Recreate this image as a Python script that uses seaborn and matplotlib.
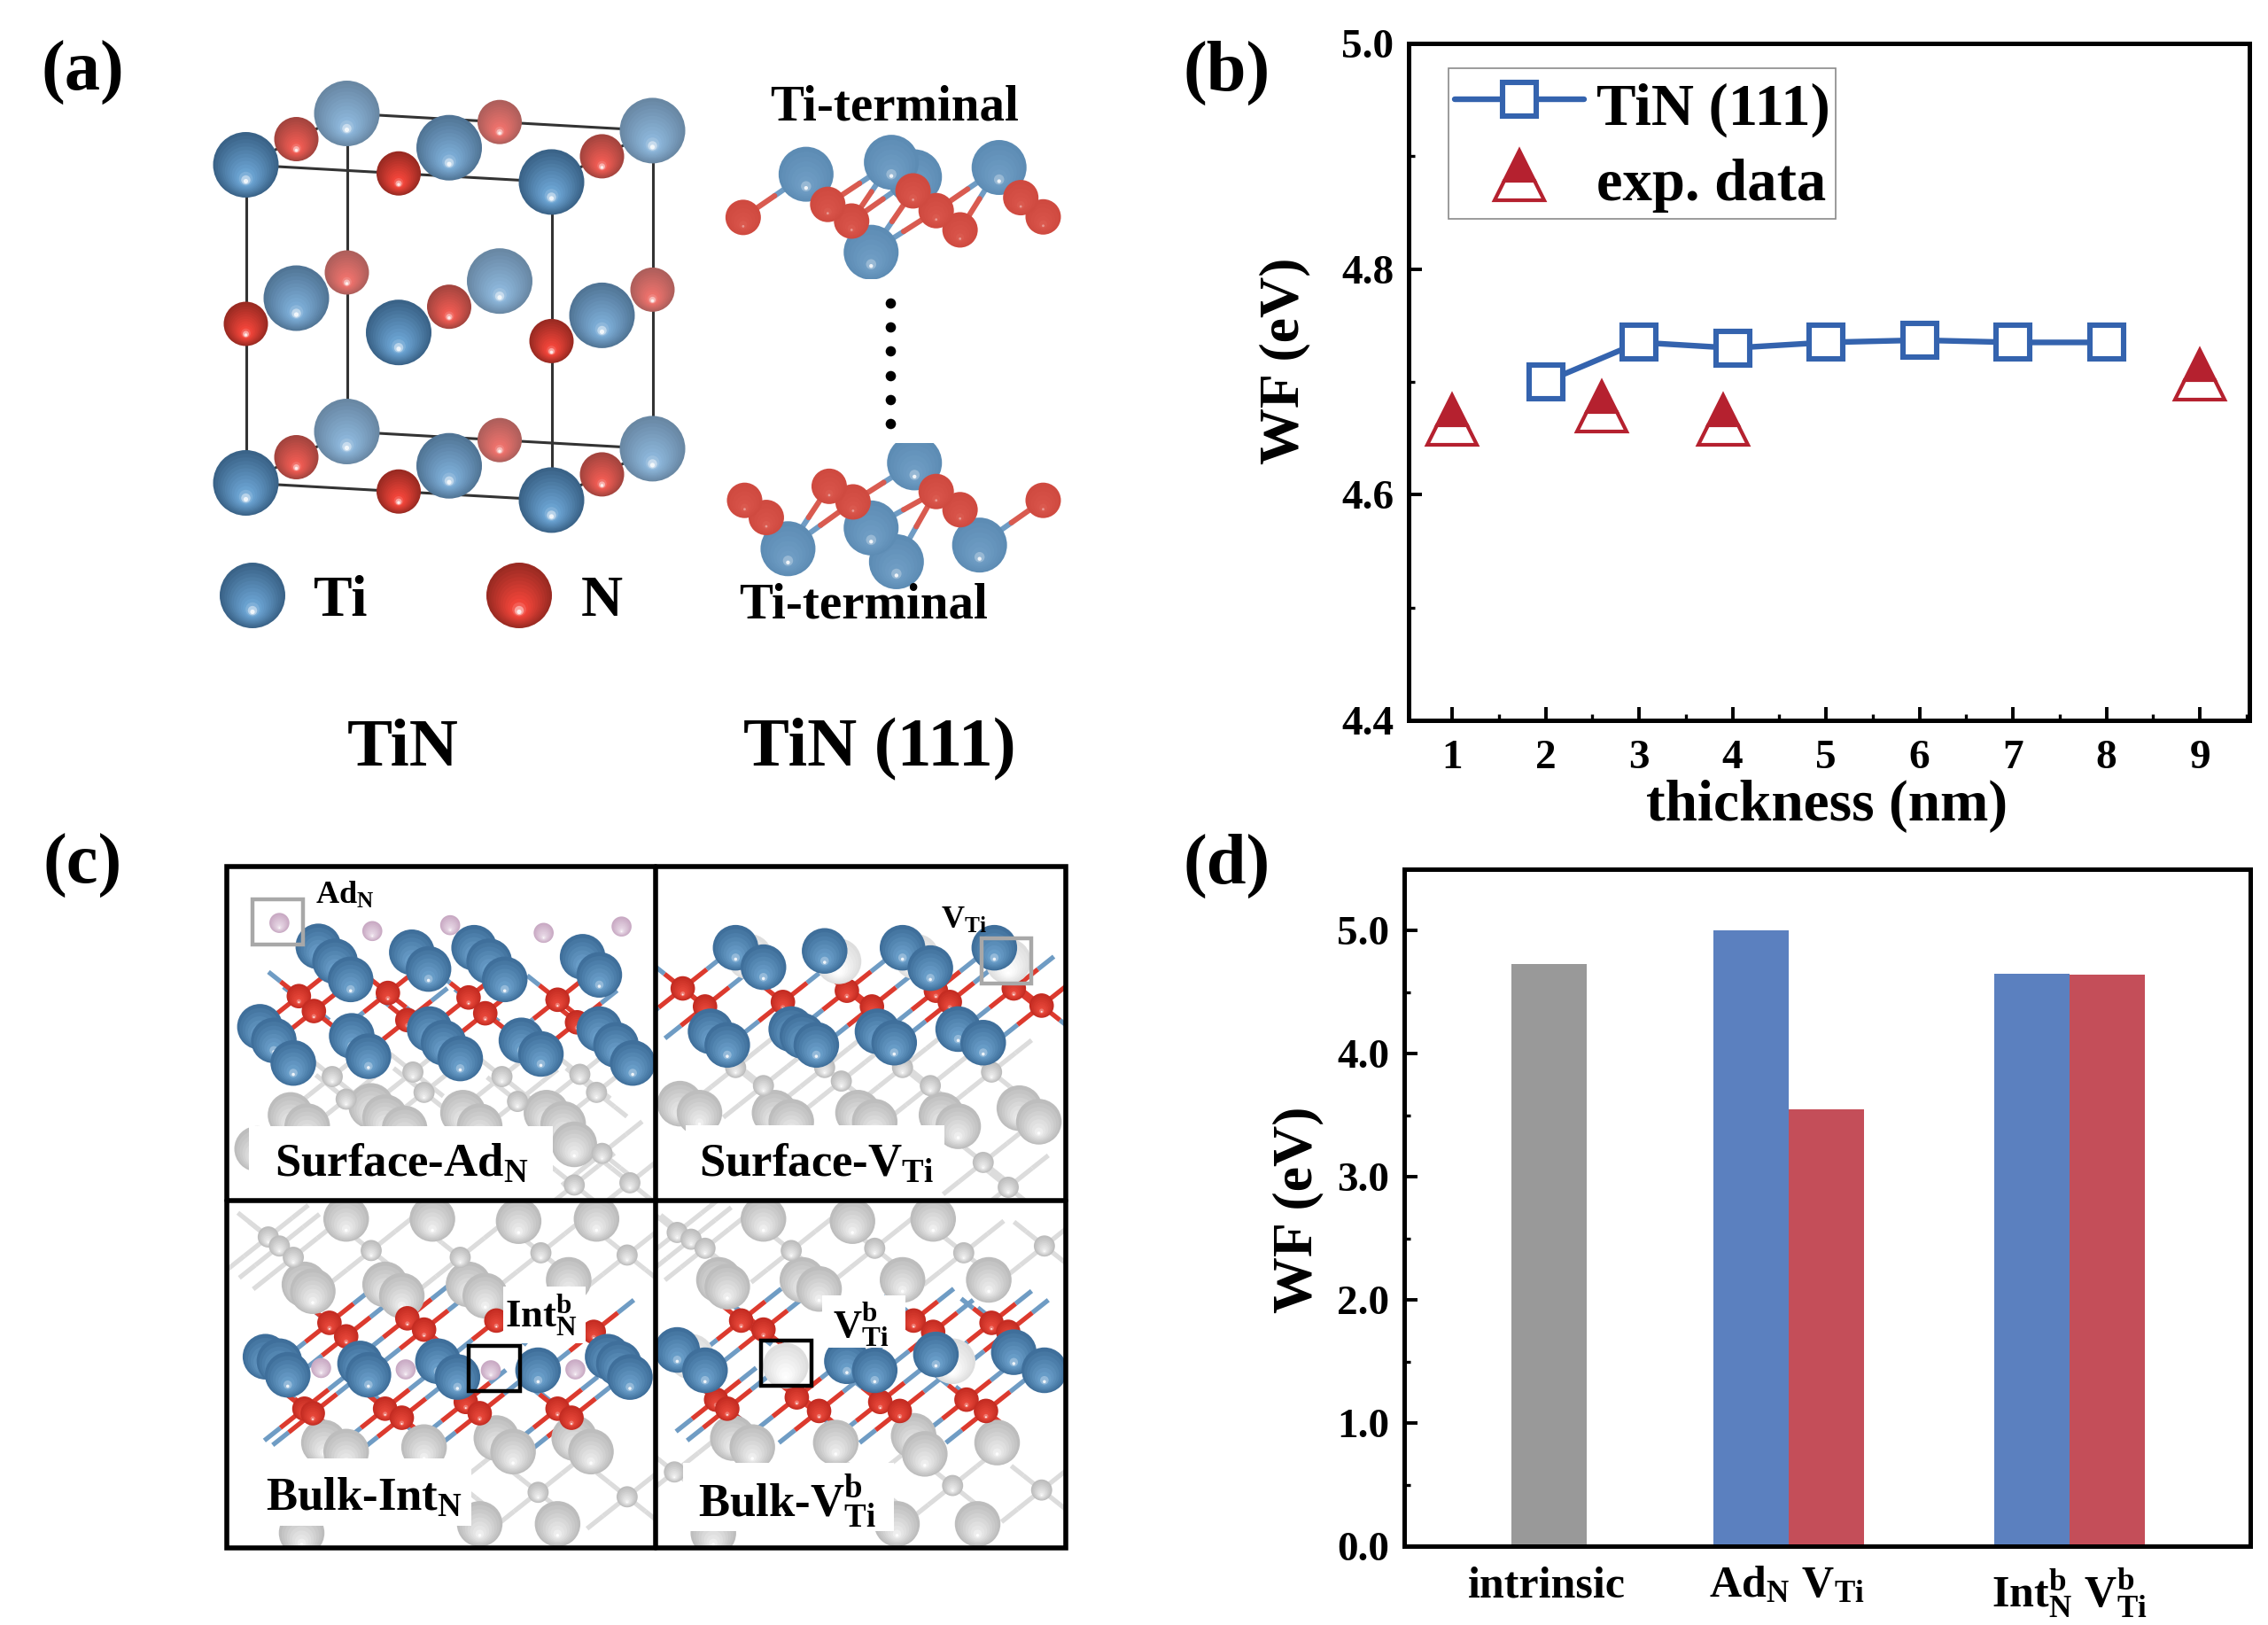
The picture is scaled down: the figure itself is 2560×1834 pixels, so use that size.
import numpy as np
import pandas as pd
import matplotlib
matplotlib.use("Agg")
import matplotlib.pyplot as plt
from matplotlib.patches import Circle, Rectangle
from matplotlib.ticker import MultipleLocator
import seaborn as sns

sns.set_theme(style="ticks")
plt.rcParams["font.family"] = ["Liberation Serif", "DejaVu Serif"]
plt.rcParams["font.weight"] = "bold"
plt.rcParams["axes.labelweight"] = "bold"
plt.rcParams["text.color"] = "black"
plt.rcParams["axes.labelcolor"] = "black"
plt.rcParams["xtick.color"] = "black"
plt.rcParams["ytick.color"] = "black"
plt.rcParams["legend.labelcolor"] = "black"
plt.rcParams["mathtext.fontset"] = "custom"
plt.rcParams["mathtext.rm"] = "Liberation Serif:bold"
plt.rcParams["mathtext.it"] = "Liberation Serif:bold"
plt.rcParams["mathtext.bf"] = "Liberation Serif:bold"

# ---------- data: panel (b) ----------
thickness_calc = [2, 3, 4, 5, 6, 7, 8]
wf_calc = [4.700, 4.735, 4.730, 4.735, 4.737, 4.735, 4.735]
thickness_exp = [1.0, 2.6, 3.9, 9.0]
wf_exp = [4.666, 4.678, 4.666, 4.706]

# ---------- data: panel (d) ----------
bar_groups = ["intrinsic", r"$\mathrm{Ad}_{\mathrm{N}}\ \mathrm{V}_{\mathrm{Ti}}$",
              r"$\mathrm{Int}_{\mathrm{N}}^{\mathrm{b}}\ \mathrm{V}_{\mathrm{Ti}}^{\mathrm{b}}$"]
wf_intrinsic = [4.73]
wf_n_defect = [5.00, 4.65]
wf_ti_defect = [3.55, 4.64]

# ---------- illustration atoms, panel (c) (picture units of the crop) ----------
P1 = dict(
    gs=[(240, 550), (380, 535), (548, 555), (690, 535), (215, 500), (360, 490), (520, 500), (660, 495), (700, 670), (750, 735), (650, 740)],
    gb=[(140, 585), (170, 610), (285, 565), (310, 590), (345, 615), (450, 580), (480, 610), (600, 580), (630, 605), (650, 650), (80, 660)],
    n=[(155, 322), (182, 355), (315, 315), (350, 375), (460, 325), (490, 360), (620, 330), (655, 380)],
    ti=[(190, 212), (220, 245), (248, 285), (358, 225), (388, 262), (470, 215), (497, 245), (525, 285), (665, 235), (695, 275),
        (85, 390), (110, 420), (145, 470), (250, 410), (280, 455), (390, 395), (415, 425), (445, 460), (555, 420), (590, 450),
        (695, 395), (725, 430), (755, 470)],
    p=[(120, 160), (287, 178), (427, 165), (595, 182), (735, 168)],
    w=[],
)
P2 = dict(
    gs=[(990, 520), (1130, 510), (1290, 520), (940, 480), (1100, 480), (1240, 480), (1400, 490), (1385, 690), (1430, 745)],
    gb=[(840, 560), (875, 580), (1010, 580), (1040, 600), (1160, 580), (1190, 600), (1310, 585), (1340, 610), (1450, 570), (1485, 600)],
    n=[(845, 305), (885, 345), (1025, 335), (1140, 310), (1185, 345), (1300, 310), (1325, 335), (1440, 305), (1490, 343)],
    ti=[(940, 215), (990, 258), (1100, 222), (1240, 215), (1290, 260), (1405, 215),
        (895, 400), (925, 430), (1040, 395), (1060, 410), (1085, 430), (1195, 400), (1225, 425), (1340, 395), (1385, 425)],
    p=[],
    w=[(965, 235), (1125, 245), (1265, 235), (1430, 245)],
)
P3 = dict(
    gs=[(100, 855), (120, 875), (145, 900), (285, 885), (445, 900), (590, 890), (745, 895), (585, 1420), (745, 1430), (440, 1400), (300, 1395)],
    gb=[(240, 815), (395, 815), (550, 820), (690, 815), (165, 960), (180, 975), (310, 960), (340, 985), (460, 960), (490, 985), (640, 950),
        (200, 1310), (240, 1330), (380, 1320), (510, 1300), (540, 1330), (650, 1300), (680, 1330), (620, 1490), (480, 1490), (160, 1510)],
    n=[(210, 1045), (240, 1075), (350, 1035), (380, 1060), (510, 1040), (685, 1065),
       (165, 1235), (180, 1245), (310, 1235), (340, 1255), (455, 1220), (480, 1245), (620, 1235), (645, 1255)],
    ti=[(95, 1120), (120, 1130), (135, 1160), (265, 1135), (280, 1160), (405, 1130), (440, 1165), (585, 1150), (710, 1120), (730, 1135), (750, 1165)],
    p=[(195, 1145), (347, 1148), (500, 1150), (652, 1148)],
    w=[],
)
P4 = dict(
    gs=[(835, 845), (860, 860), (885, 880), (1040, 885), (1190, 880), (1350, 890), (1495, 875), (1330, 1405), (1490, 1415), (1180, 1395), (830, 1375)],
    gb=[(990, 815), (1150, 820), (1295, 815), (910, 950), (925, 965), (1060, 950), (1090, 970), (1240, 950), (1395, 950),
        (935, 1300), (970, 1320), (1120, 1310), (1260, 1295), (1280, 1335), (1410, 1310), (1375, 1490), (1230, 1490), (900, 1510)],
    n=[(950, 1040), (990, 1060), (1260, 1040), (1295, 1065), (1400, 1045), (1430, 1065),
       (905, 1215), (925, 1235), (1050, 1210), (1090, 1240), (1200, 1220), (1235, 1240), (1355, 1215), (1390, 1240)],
    ti=[(835, 1105), (885, 1150), (1140, 1130), (1190, 1150), (1300, 1115), (1440, 1110), (1495, 1150)],
    p=[],
    w=[(860, 1120), (1030, 1140), (1330, 1130)],
)
# ---------- illustration atoms, panel (a) slabs ----------
TOP_TI = [(1265, 340), (1115, 335), (1233, 312), (1382, 322), (1205, 485)]
TOP_N = [(1178, 425), (1328, 442), (1443, 417), (1028, 418), (1145, 393), (1295, 405), (1412, 380), (1263, 367)]
BOT_TI = [(1265, 890), (1240, 1080), (1090, 1055), (1205, 1015), (1355, 1048)]
BOT_N = [(1060, 995), (1180, 965), (1328, 980), (1030, 962), (1147, 935), (1295, 945), (1443, 962)]

# ---------- figure ----------
fig = plt.figure(figsize=(25.6, 18.34), dpi=100, facecolor="white")
ill = fig.add_axes([0, 0, 1, 1], zorder=0)
ill.set_xlim(0, 2560)
ill.set_ylim(1834, 0)
ill.axis("off")


def mix(c1, c2, t):
    return tuple((1 - t) * a + t * b for a, b in zip(c1, c2))


def sphere(x, y, r, dark, light, z, clip=None, n=14, hl=0.9):
    for i in range(n):
        t = i / (n - 1)
        col = mix(dark, light, min(t / 0.8, 1))
        if t > 0.82:
            col = mix(light, (1, 1, 1), (t - 0.82) / 0.18 * hl)
        rad = r * (1 - 0.93 * t)
        c = Circle((x, y + 0.5 * r * t), rad, fc=col, ec="none", lw=0, zorder=z + i * 1e-4)
        ill.add_patch(c)
        if clip is not None:
            c.set_clip_path(clip)


def rgb(h):
    return matplotlib.colors.to_rgb(h)


FOG = (0.88, 0.90, 0.93)
STY = {
    "ti": (rgb("#3f6f9b"), rgb("#6a9fca")),
    "n": (rgb("#c42c22"), rgb("#e8483a")),
    "gb": (rgb("#bdbdbd"), rgb("#e8e8e8")),
    "gs": (rgb("#bdbdbd"), rgb("#e8e8e8")),
    "w": (rgb("#dedede"), rgb("#fbfbfb")),
    "p": (rgb("#c9aac4"), rgb("#e6d6e4")),
}
BOND = {"ti": "#6f9cc4", "n": "#dc3a2e", "gb": "#dcdcdc", "gs": "#dcdcdc", "w": "#ececec", "p": "#ffffff"}
RAD = {"ti": 41, "n": 22, "gb": 41, "gs": 19, "w": 41, "p": 18}
METAL = ("ti", "gb", "w")
NONM = ("n", "gs")
ROD_U = np.array([0.78, -0.62])
ROD_V = np.array([0.78, 0.62])


def cx(X):
    return 240 + 0.628 * X


def cy(Y):
    return 960 + 0.51 * Y


def panel_c(P, box):
    clip = Rectangle((box[0], box[1]), box[2] - box[0], box[3] - box[1], transform=ill.transData)
    atoms = []
    for kind in ("gb", "gs", "ti", "w", "n", "p"):
        for (X, Y) in P[kind]:
            atoms.append((kind, cx(X), cy(Y)))
    for b in atoms:
        if b[0] not in NONM:
            continue
        near = BOND["ti"] if b[0] == "n" else BOND["gb"]
        c0 = np.array([b[1], b[2]])
        for (u, reach) in ((ROD_U, 58), (-ROD_U, 58), (ROD_V, 44), (-ROD_V, 44)):
            l1, = ill.plot(*zip(c0, c0 + u * reach * 0.6), color=BOND[b[0]], lw=3.8, zorder=2.1, solid_capstyle="butt")
            l2, = ill.plot(*zip(c0 + u * reach * 0.6, c0 + u * reach), color=near, lw=3.8, zorder=2, solid_capstyle="butt")
            l1.set_clip_path(clip)
            l2.set_clip_path(clip)
    order = {"gb": 3, "gs": 3.5, "n": 4, "w": 4.5, "ti": 5, "p": 4.2}
    for idx, (k, x, y) in enumerate(atoms):
        sphere(x, y, RAD[k] * 0.628, STY[k][0], STY[k][1], order[k] + idx * 1e-3, clip=clip, n=9)


FR_L, FR_M, FR_R = 256, 740, 1203
FR_T, FR_C, FR_B = 978, 1355, 1747
panel_c(P1, (FR_L, FR_T, FR_M, FR_C))
panel_c(P2, (FR_M, FR_T, FR_R, FR_C))
panel_c(P3, (FR_L, FR_C, FR_M, FR_B))
panel_c(P4, (FR_M, FR_C, FR_R, FR_B))


def label_c(X, Y, txt, size, box=None):
    if box is not None:
        ill.add_patch(Rectangle((cx(box[0]), cy(box[1])), 0.628 * (box[2] - box[0]), 0.51 * (box[3] - box[1]),
                                fc="white", ec="none", zorder=7))
    ill.text(cx(X), cy(Y), txt, fontsize=size, ha="center", va="center", zorder=8, fontweight="bold")


label_c(340, 695, r"$\mathrm{Surface\text{-}Ad}_{\mathrm{N}}$", 38, (65, 610, 612, 760))
label_c(1085, 695, r"$\mathrm{Surface\text{-}V}_{\mathrm{Ti}}$", 38, (850, 608, 1315, 750))
label_c(272, 1435, r"$\mathrm{Bulk\text{-}Int}_{\mathrm{N}}$", 38, (60, 1345, 465, 1495))
label_c(1033, 1440, r"$\mathrm{Bulk\text{-}V}_{\mathrm{Ti}}^{\mathrm{b}}$", 38, (845, 1355, 1225, 1505))
label_c(238, 100, r"$\mathrm{Ad}_{\mathrm{N}}$", 26)
label_c(1350, 155, r"$\mathrm{V}_{\mathrm{Ti}}$", 26)
label_c(590, 1030, r"$\mathrm{Int}_{\mathrm{N}}^{\mathrm{b}}$", 32, (522, 965, 670, 1090))
label_c(1165, 1050, r"$\mathrm{V}_{\mathrm{Ti}}^{\mathrm{b}}$", 32, (1095, 985, 1245, 1100))
for (x0, y0, x1, y1, col) in [(72, 107, 163, 207, "#a8a8a8"), (1382, 195, 1472, 295, "#a8a8a8"),
                              (460, 1097, 552, 1197, "black"), (985, 1085, 1077, 1185, "black")]:
    ill.add_patch(Rectangle((cx(x0), cy(y0)), 0.628 * (x1 - x0), 0.51 * (y1 - y0), fc="none", ec=col, lw=3.2, zorder=9))
ill.add_patch(Rectangle((FR_L, FR_T), FR_R - FR_L, FR_B - FR_T, fc="none", ec="black", lw=4, zorder=10))
ill.plot([FR_M, FR_M], [FR_T, FR_B], color="black", lw=4, zorder=10)
ill.plot([FR_L, FR_R], [FR_C, FR_C], color="black", lw=4, zorder=10)

# ---------- panel (a): rock-salt cell from a projected lattice ----------
O = np.array([277.5, 186.0])
VA = np.array([345.0, 19.4])
VB = np.array([114.0, -58.0])
VC = np.array([0.0, 359.0])
TI_D, TI_L = rgb("#3a6388"), rgb("#6ba3d2")
N_D, N_L = rgb("#9a2a22"), rgb("#f2453a")


def P(i, j, k):
    return O + VA * i / 2 + VB * j / 2 + VC * k / 2


for k in (0, 2):
    for (s, e) in [((0, 2), (2, 2)), ((0, 0), (2, 0)), ((0, 0), (0, 2)), ((2, 0), (2, 2))]:
        p0, p1 = P(s[0], s[1], k), P(e[0], e[1], k)
        ill.plot([p0[0], p1[0]], [p0[1], p1[1]], color="#333333", lw=2.2, zorder=2)
for i in (0, 2):
    for j in (0, 2):
        p0, p1 = P(i, j, 0), P(i, j, 2)
        ill.plot([p0[0], p1[0]], [p0[1], p1[1]], color="#333333", lw=2.2, zorder=2)

sites = [(i, j, k) for j in (2, 1, 0) for k in (0, 2, 1) for i in (0, 1, 2)]
for n_s, (i, j, k) in enumerate(sites):
    p = P(i, j, k)
    is_ti = (i + j + k) % 2 == 0
    fog = 0.14 * j
    d, l = (TI_D, TI_L) if is_ti else (N_D, N_L)
    d, l = mix(d, FOG, fog), mix(l, FOG, fog)
    sphere(p[0], p[1], 37 if is_ti else 25, d, l, 3 + n_s * 0.01)

sphere(285, 672, 37, TI_D, TI_L, 4)
sphere(586, 672, 37, N_D, N_L, 4)
ill.text(384, 679, "Ti", fontsize=47, ha="center", va="center")
ill.text(679, 679, "N", fontsize=47, ha="center", va="center")


def slab(ti, n, clip_box):
    clip = Rectangle((clip_box[0], clip_box[1]), clip_box[2] - clip_box[0], clip_box[3] - clip_box[1], transform=ill.transData)
    T = [(X * 0.816, Y * 0.587) for X, Y in ti]
    N = [(X * 0.816, Y * 0.587) for X, Y in n]
    for a in T:
        for b in N:
            if np.hypot(a[0] - b[0], a[1] - b[1]) < 92:
                m = ((a[0] + b[0]) / 2, (a[1] + b[1]) / 2)
                l1, = ill.plot([a[0], m[0]], [a[1], m[1]], color="#6f9cc4", lw=4.4, zorder=2)
                l2, = ill.plot([m[0], b[0]], [m[1], b[1]], color="#d95b50", lw=4.4, zorder=2)
                l1.set_clip_path(clip)
                l2.set_clip_path(clip)
    for idx, (x, y) in enumerate(T):
        sphere(x, y, 31, rgb("#5d8cb4"), rgb("#6f9dc4"), 3 + idx * 0.01, clip=clip, n=9)
    for idx, (x, y) in enumerate(N):
        sphere(x, y, 20, rgb("#cf4a40"), rgb("#d95449"), 3.5 + idx * 0.01, clip=clip, n=7, hl=0.4)


slab(TOP_TI, TOP_N, (780, 100, 1260, 315))
slab(BOT_TI, BOT_N, (780, 500, 1260, 680))
dot_y = np.linspace(342, 478, 6)
ill.scatter([1005] * 6, dot_y, s=70, color="black", zorder=3, linewidths=0)

ill.text(1010, 122, "Ti-terminal", fontsize=41, ha="center", va="center")
ill.text(975, 683, "Ti-terminal", fontsize=41, ha="center", va="center", zorder=6)
ill.text(455, 846, "TiN", fontsize=55, ha="center", va="center")
ill.text(993, 846, "TiN (111)", fontsize=56, ha="center", va="center")
for (x, y, s) in [(93, 82, "(a)"), (1385, 82, "(b)"), (93, 977, "(c)"), (1385, 977, "(d)")]:
    ill.text(x, y, s, fontsize=58, ha="center", va="center")


def ax_px(l, t, r, b):
    return fig.add_axes([l / 2560, 1 - b / 1834, (r - l) / 2560, (b - t) / 1834], zorder=2, facecolor="none")


def style_axis(ax):
    for s in ax.spines.values():
        s.set_linewidth(3.6)
        s.set_color("black")
    ax.tick_params(which="major", direction="in", length=11, width=2.8, labelsize=34, pad=12, top=False, right=False, color="black")
    ax.tick_params(which="minor", direction="in", length=5, width=2.4, top=False, right=False, color="black")
    ax.grid(False)


# ---------- panel (b) ----------
axb = ax_px(1590, 49, 2539, 813)
BLUE = "#3463ae"
RED = "#b5212f"
df_calc = pd.DataFrame({"t": thickness_calc, "wf": wf_calc})
df_exp = pd.DataFrame({"t": thickness_exp, "wf": wf_exp})
sns.lineplot(data=df_calc, x="t", y="wf", ax=axb, color=BLUE, lw=4.6, marker="s", ms=27,
             mfc="white", mec=BLUE, mew=4.4, errorbar=None, label="TiN (111)", sort=False)
sns.lineplot(data=df_exp, x="t", y="wf", ax=axb, color=RED, ls="", marker="^", ms=40,
             fillstyle="top", markerfacecoloralt="white", markerfacecolor=RED, markeredgecolor=RED, markeredgewidth=3,
             errorbar=None, label="exp. data", sort=False)
axb.set_xlim(0.535, 9.53)
axb.set_ylim(4.4, 5.0)
axb.xaxis.set_major_locator(MultipleLocator(1))
axb.xaxis.set_minor_locator(MultipleLocator(0.5))
axb.yaxis.set_major_locator(MultipleLocator(0.2))
axb.yaxis.set_minor_locator(MultipleLocator(0.1))
style_axis(axb)
axb.tick_params(axis="x", which="major", pad=16)
axb.set_xlabel("thickness (nm)", fontsize=47, fontweight="bold")
axb.set_ylabel("WF (eV)", fontsize=46, fontweight="bold", va="center")
axb.xaxis.set_label_coords(0.497, -0.088)
axb.yaxis.set_label_coords(-0.147, 0.531)
leg = axb.legend(loc="upper left", bbox_to_anchor=((1635 - 1590) / 949, 1 - (77 - 49) / 764), borderaxespad=0,
                 frameon=True, fancybox=False, framealpha=1, edgecolor="#8a8a8a", fontsize=48,
                 handlelength=2.2, handletextpad=0.2, borderpad=0.1, labelspacing=0.22, handleheight=1.2, numpoints=1)
leg.get_frame().set_linewidth(1.2)

# ---------- panel (d) ----------
axd = ax_px(1585, 981, 2540, 1745)
GRAY = "#999999"
BAR_BLUE = "#5b80bf"
BAR_RED = "#c44e59"
GROUP_CENTER = [1.92, 5.10, 8.83]
df_bar = pd.DataFrame({
    "pos": [GROUP_CENTER[0], GROUP_CENTER[1] - 0.5, GROUP_CENTER[1] + 0.5, GROUP_CENTER[2] - 0.5, GROUP_CENTER[2] + 0.5],
    "wf": wf_intrinsic + [wf_n_defect[0], wf_ti_defect[0], wf_n_defect[1], wf_ti_defect[1]],
    "kind": ["intrinsic", "N", "Ti", "N", "Ti"],
})
sns.barplot(data=df_bar, x="pos", y="wf", hue="kind", native_scale=True, dodge=False, width=1.0, saturation=1,
            palette={"intrinsic": GRAY, "N": BAR_BLUE, "Ti": BAR_RED}, legend=False, ax=axd, errorbar=None,
            linewidth=0, edgecolor="none")
axd.set_xlim(0, 955 / 85)
axd.set_ylim(0, 5.5)
axd.yaxis.set_major_locator(MultipleLocator(1))
axd.yaxis.set_minor_locator(MultipleLocator(0.5))
axd.yaxis.set_major_formatter(matplotlib.ticker.FormatStrFormatter("%.1f"))
style_axis(axd)
axd.set_xticks([GROUP_CENTER[0] - 0.03, GROUP_CENTER[1] - 0.02, GROUP_CENTER[2]], bar_groups, fontsize=36)
axd.tick_params(axis="x", which="major", length=0, pad=16)
axd.xaxis.set_minor_locator(matplotlib.ticker.NullLocator())
axd.set_xlabel("")
axd.set_ylabel("WF (eV)", fontsize=46, fontweight="bold", va="center")
axd.yaxis.set_label_coords(-0.125, 0.497)

for ax in (axb, axd):
    for t in ax.get_xticklabels() + ax.get_yticklabels():
        t.set_fontweight("bold")

fig.savefig("out.png", dpi=100, facecolor="white")
